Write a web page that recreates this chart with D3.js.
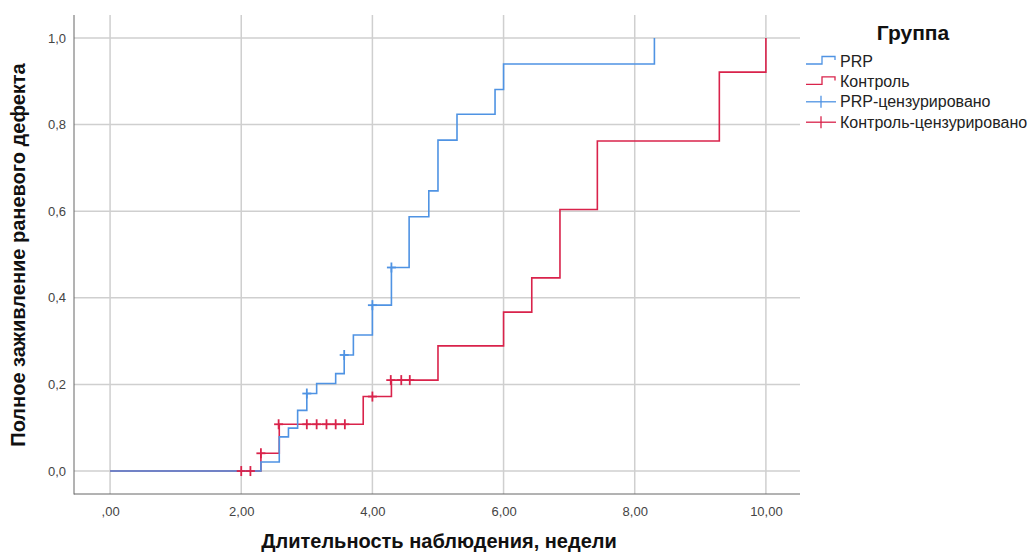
<!DOCTYPE html>
<html>
<head>
<meta charset="utf-8">
<script src="https://cdn.jsdelivr.net/npm/d3@7"></script>
<style>
  html, body { margin: 0; padding: 0; background: #fff; }
  svg { display: block; font-family: "Liberation Sans", Arial, sans-serif; }
</style>
</head>
<body>
<svg id="chart" width="1033" height="553"></svg>
<script>
// ---- data ----
const prpTimes   = [0, 2.30, 2.58, 2.72, 2.86, 3.00, 3.15, 3.44, 3.57, 3.71, 4.00, 4.29, 4.56, 4.86, 5.00, 5.29, 5.87, 6.00, 8.30];
const prpValues  = [0, 0.021, 0.079, 0.099, 0.140, 0.179, 0.202, 0.225, 0.268, 0.314, 0.383, 0.470, 0.587, 0.647, 0.764, 0.824, 0.881, 0.940, 1.000];
const ctrlTimes  = [0, 2.30, 2.58, 3.86, 4.29, 5.00, 6.00, 6.43, 6.86, 7.43, 9.29, 10.00];
const ctrlValues = [0, 0.041, 0.108, 0.172, 0.210, 0.289, 0.367, 0.446, 0.604, 0.762, 0.921, 1.000];
const prpCensTimes   = [3.00, 3.57, 4.00, 4.29];
const prpCensValues  = [0.179, 0.268, 0.383, 0.470];
const ctrlCensTimes  = [2.00, 2.14, 2.30, 2.57, 3.00, 3.15, 3.30, 3.44, 3.58, 4.00, 4.28, 4.44, 4.57];
const ctrlCensValues = [0, 0, 0.041, 0.108, 0.108, 0.108, 0.108, 0.108, 0.108, 0.172, 0.210, 0.210, 0.210];
const xTicks = [0, 2, 4, 6, 8, 10];
const xTickLabels = [",00", "2,00", "4,00", "6,00", "8,00", "10,00"];
const yTicks = [0, 0.2, 0.4, 0.6, 0.8, 1.0];
const yTickLabels = ["0,0", "0,2", "0,4", "0,6", "0,8", "1,0"];
const legendLabels = ["PRP", "Контроль", "PRP-цензурировано", "Контроль-цензурировано"];

const BLUE = "#4f93e3", RED = "#d9234b";

const svg = d3.select("#chart");
const pLeft = 74, pRight = 800, pTop = 15, pBottom = 494;
const x = d3.scaleLinear().domain([-0.55, 10.52]).range([pLeft, pRight]);
const y = d3.scaleLinear().domain([-0.053, 1.053]).range([pBottom, pTop]);

// gridlines
const grid = svg.append("g");
grid.selectAll("line.v").data(xTicks).join("line").attr("class", "v")
  .attr("x1", d => x(d)).attr("x2", d => x(d)).attr("y1", pTop).attr("y2", pBottom)
  .attr("stroke", "#cfcfcf").attr("stroke-width", 1.5);
grid.selectAll("line.h").data(yTicks).join("line").attr("class", "h")
  .attr("x1", pLeft).attr("x2", pRight).attr("y1", d => y(d)).attr("y2", d => y(d))
  .attr("stroke", "#cfcfcf").attr("stroke-width", 1.5);

// axes
const xAxis = d3.axisBottom(x).tickValues(xTicks).tickSize(0).tickPadding(13)
  .tickFormat((d, i) => xTickLabels[i]);
const gx = svg.append("g").attr("transform", `translate(0,${pBottom})`).call(xAxis);
gx.select(".domain").remove();
gx.selectAll("text").attr("font-size", 13).attr("fill", "#444").attr("font-family", "Liberation Sans, Arial, sans-serif");

const yAxis = d3.axisLeft(y).tickValues(yTicks).tickSize(0).tickPadding(8)
  .tickFormat((d, i) => yTickLabels[i]);
const gy = svg.append("g").attr("transform", `translate(${pLeft},0)`).call(yAxis);
gy.select(".domain").remove();
gy.selectAll("text").attr("font-size", 13).attr("fill", "#444").attr("font-family", "Liberation Sans, Arial, sans-serif");

svg.append("line").attr("x1", pLeft).attr("x2", pLeft).attr("y1", pTop).attr("y2", pBottom + 0.5)
  .attr("stroke", "#666").attr("stroke-width", 1);
svg.append("line").attr("x1", pLeft).attr("x2", pRight).attr("y1", pBottom).attr("y2", pBottom)
  .attr("stroke", "#666").attr("stroke-width", 1);

// step lines
const line = d3.line().x(d => x(d[0])).y(d => y(d[1])).curve(d3.curveStepAfter);
const prpPts = prpTimes.map((t, i) => [t, prpValues[i]]);
const ctrlPts = ctrlTimes.map((t, i) => [t, ctrlValues[i]]);
svg.append("path").attr("d", line(ctrlPts)).attr("fill", "none").attr("stroke", RED).attr("stroke-width", 1.6);
svg.append("path").attr("d", line(prpPts)).attr("fill", "none").attr("stroke", BLUE).attr("stroke-width", 1.6);

// censor marks
function censors(times, vals, color) {
  const g = svg.append("g").attr("stroke", color).attr("stroke-width", 1.8);
  times.forEach((t, i) => {
    const cx = x(t), cy = y(vals[i]);
    g.append("line").attr("x1", cx - 4.5).attr("x2", cx + 4.5).attr("y1", cy).attr("y2", cy);
    g.append("line").attr("x1", cx).attr("x2", cx).attr("y1", cy - 5).attr("y2", cy + 5);
  });
}
censors(ctrlCensTimes, ctrlCensValues, RED);
censors(prpCensTimes, prpCensValues, BLUE);

// axis titles
svg.append("text").attr("x", 439).attr("y", 548).attr("text-anchor", "middle")
  .attr("font-size", 20).attr("font-weight", "bold").attr("fill", "#111")
  .text("Длительность наблюдения, недели");
svg.append("text").attr("transform", "translate(25,255) rotate(-90)").attr("text-anchor", "middle")
  .attr("font-size", 20).attr("font-weight", "bold").attr("fill", "#111")
  .text("Полное заживление раневого дефекта");

// legend
svg.append("text").attr("x", 913).attr("y", 40).attr("text-anchor", "middle")
  .attr("font-size", 21).attr("font-weight", "bold").attr("fill", "#111").text("Группа");
const legColors = [BLUE, RED, BLUE, RED];
const lg = svg.append("g");
legendLabels.forEach((lab, i) => {
  const cy = 61 + i * 20.4;
  if (i < 2) {
    lg.append("path").attr("d", `M806,${cy + 3} H822 V${cy - 4.5} H835 V${cy - 1}`)
      .attr("fill", "none").attr("stroke", legColors[i]).attr("stroke-width", 1.3);
  } else {
    lg.append("line").attr("x1", 806).attr("x2", 836).attr("y1", cy).attr("y2", cy)
      .attr("stroke", legColors[i]).attr("stroke-width", 1.3);
    lg.append("line").attr("x1", 821).attr("x2", 821).attr("y1", cy - 6).attr("y2", cy + 6)
      .attr("stroke", legColors[i]).attr("stroke-width", 1.3);
  }
  lg.append("text").attr("x", 840).attr("y", cy).attr("dy", "0.35em")
    .attr("font-size", 16).attr("fill", "#222").text(lab);
});
</script>
</body>
</html>
